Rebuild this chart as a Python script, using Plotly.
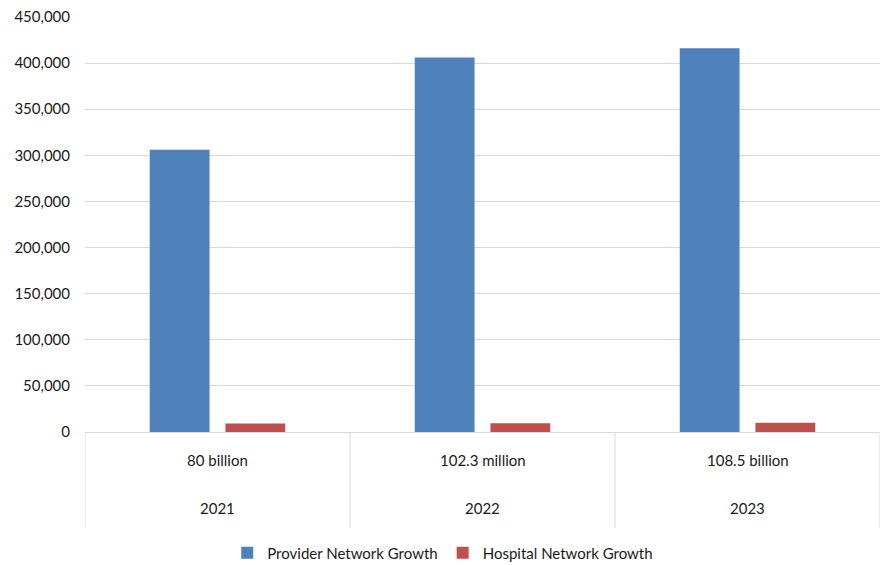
import plotly.graph_objects as go

years = ["2021", "2022", "2023"]
market_labels = ["80 billion", "102.3 million", "108.5 billion"]
provider_growth = [306000, 406000, 416000]
hospital_growth = [9300, 9400, 10100]
y_ticks = list(range(0, 450001, 50000))

FONT = "Lato"
TXT = "#1a1a1a"
GRID = "#d9d9d9"

fig = go.Figure()
fig.add_trace(go.Bar(name="Provider Network Growth", x=years, y=provider_growth,
                     marker=dict(color="#4F81BD", line=dict(width=0))))
fig.add_trace(go.Bar(name="Hospital Network Growth", x=years, y=hospital_growth,
                     marker=dict(color="#C0504D", line=dict(width=0))))

plot_h = 565 - 17 - 133
for i, (yr, lab) in enumerate(zip(years, market_labels)):
    fig.add_annotation(x=i, xref="x", y=0, yref="paper", text=lab, showarrow=False,
                       yanchor="middle", yshift=-28, font=dict(family=FONT, size=15, color=TXT))
    fig.add_annotation(x=i, xref="x", y=0, yref="paper", text=yr, showarrow=False,
                       yanchor="middle", yshift=-76, font=dict(family=FONT, size=15, color=TXT))
for i in range(len(years) + 1):
    fig.add_shape(type="line", xref="x", yref="paper", x0=i - 0.5, x1=i - 0.5,
                  y0=0, y1=-96 / plot_h, line=dict(color=GRID, width=1))

fig.update_layout(
    width=882, height=565,
    margin=dict(l=85, r=2, t=17, b=133, autoexpand=False),
    paper_bgcolor="white", plot_bgcolor="white",
    barmode="group", bargap=0.4286, bargroupgap=0.21,
    font=dict(family=FONT, size=15, color=TXT),
    showlegend=True,
    legend=dict(orientation="h", x=0.45, xanchor="center", y=12 / 565, yref="container",
                yanchor="middle",
                font=dict(family=FONT, size=15, color=TXT), itemwidth=30,
                traceorder="normal"),
    xaxis=dict(type="category", range=[-0.5, 2.5], showticklabels=False, showgrid=False,
               showline=True, linecolor=GRID, linewidth=1, ticks="", zeroline=False),
    yaxis=dict(range=[0, 450000], tickvals=y_ticks, tickformat=",d", showgrid=True,
               gridcolor=GRID, gridwidth=1, zeroline=False, showline=False, ticks="",
               ticklabelstandoff=14, tickfont=dict(family=FONT, size=15, color=TXT)),
)

fig.write_html("out.html")
